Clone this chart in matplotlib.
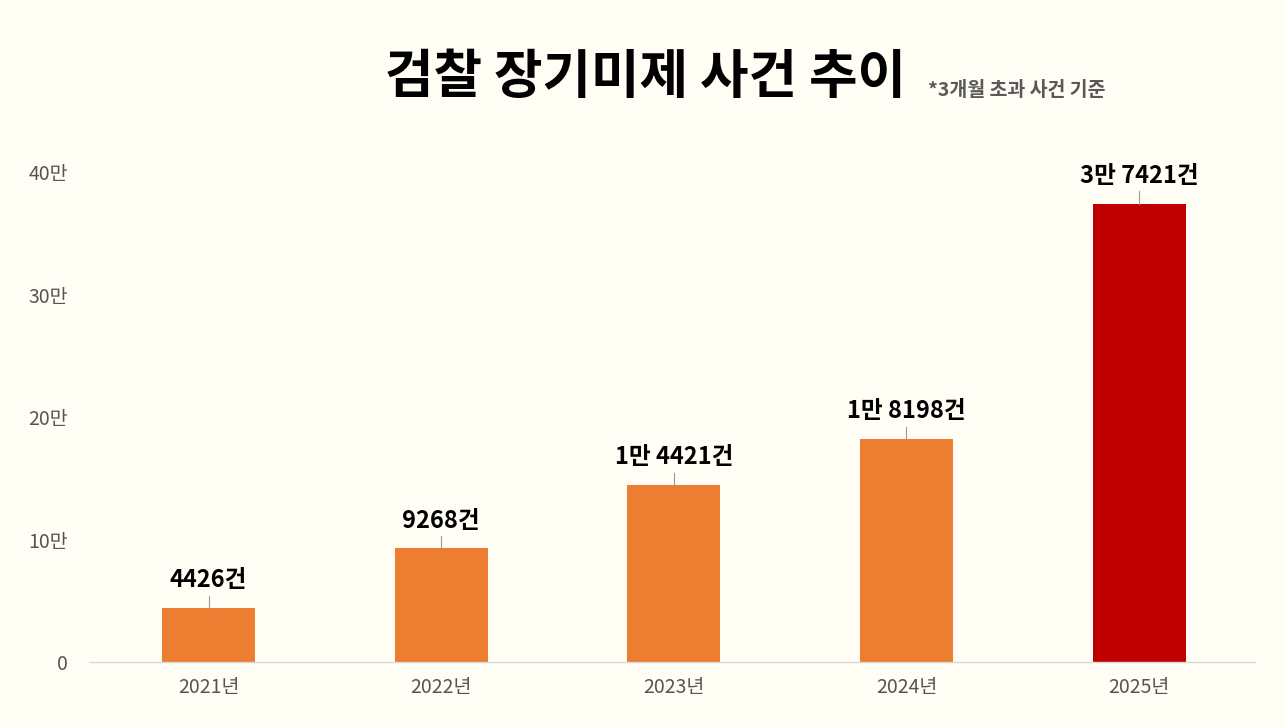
import matplotlib
matplotlib.use("Agg")
import matplotlib.pyplot as plt

plt.rcParams['font.family'] = ['Noto Sans CJK KR', 'DejaVu Sans']

# Data
years = ['2021년', '2022년', '2023년', '2024년', '2025년']
cases = [4426, 9268, 14421, 18198, 37421]
labels = ['4426건', '9268건', '1만 4421건', '1만 8198건', '3만 7421건']
ytick_vals = [0, 10000, 20000, 30000, 40000]
ytick_labels = ['0', '10만', '20만', '30만', '40만']

BG = '#FFFDF4'
colors = ['#ED7D31'] * 4 + ['#C00000']

fig = plt.figure(figsize=(12.85, 7.27), dpi=100, facecolor=BG)
ax = fig.add_axes([0.070, 0.0894, 0.907, 0.674])
ax.set_facecolor(BG)

x = list(range(len(years)))
ax.bar(x, cases, width=0.4, color=colors, zorder=2)

# value labels with small leader line
for xi, v, lab in zip(x, cases, labels):
    ax.plot([xi, xi], [v, v + 1000], color='#999999', lw=0.8, clip_on=False)
    ax.text(xi, v + 1300, lab, ha='center', va='bottom', fontsize=17,
            fontweight='bold', color='black', clip_on=False)

ax.set_xlim(-0.51, 4.5)
ax.set_ylim(0, 40000)
ax.set_xticks(x)
ax.set_xticklabels(years, fontsize=14, fontweight='medium', color='#555555')
ax.set_yticks(ytick_vals)
ax.set_yticklabels(ytick_labels, fontsize=14, fontweight='medium', color='#555555')
ax.tick_params(length=0, pad=11)
ax.tick_params(axis='y', pad=16)

for side in ['top', 'right', 'left']:
    ax.spines[side].set_visible(False)
ax.spines['bottom'].set_color('#D9D9D9')
ax.spines['bottom'].set_linewidth(1)

fig.text(0.502, 0.893, '검찰 장기미제 사건 추이', ha='center', va='center',
         fontsize=38, fontweight='black', color='black')
fig.text(0.722, 0.876, '*3개월 초과 사건 기준', ha='left', va='center',
         fontsize=14, fontweight='bold', color='#595959')

fig.savefig('out.png', dpi=100, facecolor=BG)
